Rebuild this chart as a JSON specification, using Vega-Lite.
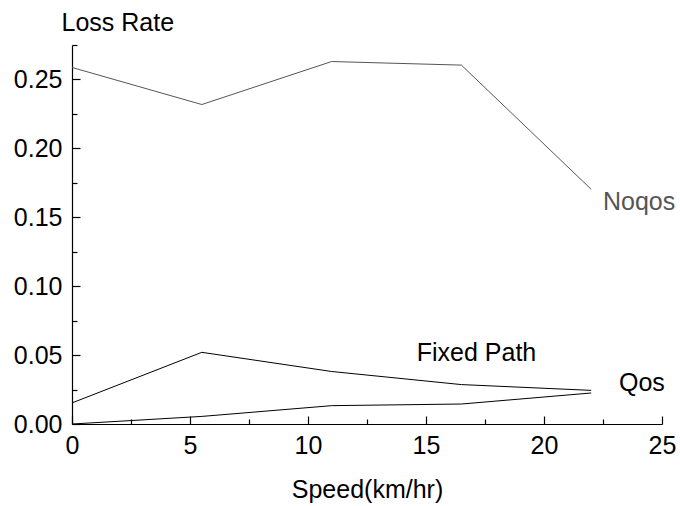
{
  "$schema": "https://vega.github.io/schema/vega-lite/v6.json",
  "width": 590,
  "height": 379,
  "autosize": "none",
  "padding": {"left": 72, "top": 45, "right": 18, "bottom": 82},
  "background": "white",
  "config": {
    "view": {"stroke": null},
    "font": "Liberation Sans",
    "axis": {
      "grid": false,
      "domainColor": "black",
      "domainWidth": 1.2,
      "tickColor": "black",
      "tickWidth": 1.2,
      "labelColor": "black",
      "titleColor": "black",
      "labelFont": "Liberation Sans",
      "titleFont": "Liberation Sans",
      "labelFontSize": 25,
      "titleFontSize": 25,
      "titleFontWeight": "normal",
      "labelFlush": false,
      "labelOverlap": false
    }
  },
  "datasets": {
    "series": [
      {"series": "Noqos", "speed": 0, "loss": 0.2587},
      {"series": "Noqos", "speed": 5.5, "loss": 0.2318},
      {"series": "Noqos", "speed": 11, "loss": 0.263},
      {"series": "Noqos", "speed": 16.5, "loss": 0.2604},
      {"series": "Noqos", "speed": 22, "loss": 0.1703},
      {"series": "Fixed Path", "speed": 0, "loss": 0.0153},
      {"series": "Fixed Path", "speed": 5.5, "loss": 0.052},
      {"series": "Fixed Path", "speed": 11, "loss": 0.0381},
      {"series": "Fixed Path", "speed": 16.5, "loss": 0.0286},
      {"series": "Fixed Path", "speed": 22, "loss": 0.0244},
      {"series": "Qos", "speed": 0, "loss": 0.0},
      {"series": "Qos", "speed": 5.5, "loss": 0.0055},
      {"series": "Qos", "speed": 11, "loss": 0.0133},
      {"series": "Qos", "speed": 16.5, "loss": 0.0145},
      {"series": "Qos", "speed": 22, "loss": 0.0225}
    ],
    "labels": [
      {"series": "Noqos", "lx": 24.03, "ly": 0.155},
      {"series": "Fixed Path", "lx": 17.14, "ly": 0.046},
      {"series": "Qos", "lx": 24.15, "ly": 0.0237}
    ]
  },
  "layer": [
    {
      "data": {"name": "series"},
      "mark": {"type": "line", "strokeWidth": 1},
      "encoding": {
        "x": {
          "field": "speed",
          "type": "quantitative",
          "scale": {"domain": [0, 25], "nice": false, "zero": false},
          "axis": {
            "orient": "bottom",
            "values": [0, 5, 10, 15, 20, 25],
            "tickSize": -8,
            "labelPadding": 17,
            "title": "Speed(km/hr)",
            "titleY": 73,
            "titleBaseline": "alphabetic"
          }
        },
        "y": {
          "field": "loss",
          "type": "quantitative",
          "scale": {"domain": [0, 0.275], "nice": false},
          "axis": {
            "orient": "left",
            "values": [0, 0.05, 0.1, 0.15, 0.2, 0.25],
            "format": ".2f",
            "tickSize": -8,
            "labelPadding": 18,
            "title": "Loss Rate",
            "titleAngle": 0,
            "titleX": -11,
            "titleY": -15,
            "titleAlign": "left",
            "titleBaseline": "alphabetic"
          }
        },
        "color": {
          "field": "series",
          "type": "nominal",
          "scale": {"domain": ["Noqos", "Fixed Path", "Qos"], "range": ["#555555", "#000000", "#000000"]},
          "legend": null
        }
      }
    },
    {
      "data": {"name": "labels"},
      "mark": {"type": "text", "fontSize": 25, "font": "Liberation Sans", "baseline": "alphabetic", "align": "center"},
      "encoding": {
        "x": {
          "field": "lx",
          "type": "quantitative",
          "axis": {
            "orient": "bottom",
            "values": [2.5, 7.5, 12.5, 17.5, 22.5],
            "tickSize": -5,
            "labels": false,
            "domain": false,
            "title": null
          }
        },
        "y": {
          "field": "ly",
          "type": "quantitative",
          "axis": {
            "orient": "left",
            "values": [0.025, 0.075, 0.125, 0.175, 0.225, 0.275],
            "tickSize": -5,
            "labels": false,
            "domain": false,
            "title": null
          }
        },
        "text": {"field": "series"},
        "color": {"field": "series", "type": "nominal", "legend": null}
      }
    }
  ],
  "resolve": {"axis": {"x": "independent", "y": "independent"}}
}
